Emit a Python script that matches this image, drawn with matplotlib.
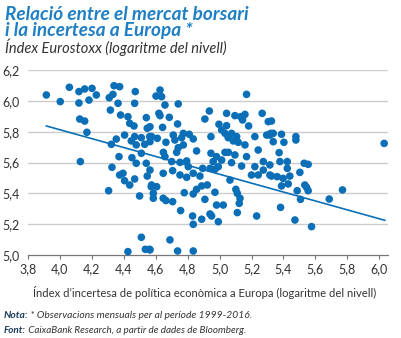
import matplotlib
matplotlib.use("Agg")
import matplotlib.pyplot as plt
import numpy as np

# ---- data ----
uncertainty = [
    3.915, 4.002, 4.059, 4.119, 4.155, 4.201, 4.228, 4.182, 4.119, 4.124, 4.155, 4.169, 4.128,
    4.339, 4.374, 4.332, 4.309, 4.364, 4.316, 4.380, 4.426, 4.472, 4.468, 4.541, 4.437, 4.464,
    4.547, 4.405, 4.353, 4.322, 4.468, 4.447, 4.510, 4.478, 4.531, 4.562, 4.370, 4.451, 4.510,
    4.478, 4.541,
    4.627, 4.602, 4.637, 4.658, 4.620, 4.627, 4.685, 4.643, 4.741, 4.737, 4.564, 4.574, 4.610,
    4.564, 4.664, 4.710, 4.720, 4.773, 4.762, 4.810, 4.773, 4.741, 4.835, 4.648, 4.658, 4.731,
    4.794, 4.856, 4.700, 4.752, 4.936, 4.908, 5.044, 5.096, 5.132, 5.159, 5.144, 5.182, 5.169,
    5.267, 5.305, 4.996, 5.044, 5.013, 5.034, 5.075, 5.054, 5.107, 5.086, 5.117, 4.946, 5.159,
    5.055, 4.946, 4.981, 5.013, 5.034, 5.096, 5.169, 5.221, 5.242, 5.295, 5.320, 5.336, 5.274,
    4.960,
    5.325, 5.336, 5.315, 5.388, 5.403, 5.478, 5.478, 5.373, 5.378, 5.424, 5.530, 5.555, 6.031,
    4.326, 4.374, 4.395, 4.405, 4.437, 4.468, 4.305, 4.547, 4.499, 4.572, 4.510, 4.426, 4.535,
    4.562,
    4.804, 4.564, 4.647, 4.706, 4.752, 4.794, 4.835, 4.877, 4.894, 4.940, 4.971, 4.992, 5.075,
    5.138, 5.221, 5.200, 5.242, 5.274, 5.315, 5.315, 5.065, 4.574, 4.606, 4.585, 4.585, 4.647,
    4.664, 4.706, 4.779, 4.835, 4.856, 4.888, 4.923, 4.971, 4.908, 4.981, 5.023, 5.102, 5.111,
    5.128, 5.123, 5.111, 5.232, 4.756, 4.831, 4.888, 4.940, 4.950, 4.992, 4.835, 4.689, 4.564,
    4.737, 4.835,
    5.424, 5.503, 5.325, 5.361, 5.398, 5.440, 5.388, 5.430, 5.534, 5.545, 5.486, 5.555, 5.507,
    5.687, 5.770, 5.382, 5.472, 5.576,
]
eurostoxx = [
    6.038, 5.995, 6.088, 6.060, 6.077, 6.081, 6.038, 6.005, 5.986, 5.882, 5.869, 5.796, 5.606,
    6.098, 6.092, 6.042, 6.020, 5.984, 5.940, 5.908, 5.897, 6.060, 5.984, 5.891, 5.854, 5.837,
    5.822, 5.778, 5.752, 5.718, 5.768, 5.740, 5.761, 5.714, 5.718, 5.768, 5.638, 5.631, 5.660,
    5.595, 5.595,
    6.070, 6.031, 6.027, 5.973, 5.919, 5.904, 5.893, 5.828, 5.980, 5.850, 5.832, 5.768, 5.757,
    5.735, 5.731, 5.778, 5.746, 5.789, 5.761, 5.783, 5.714, 5.696, 5.753, 5.666, 5.638, 5.666,
    5.610, 5.675, 5.606, 5.601, 5.934, 5.882, 5.919, 5.904, 5.897, 5.912, 5.876, 5.837, 6.042,
    5.919, 5.865, 5.848, 5.839, 5.811, 5.789, 5.789, 5.761, 5.768, 5.740, 5.731, 5.768, 5.714,
    5.666, 5.660, 5.638, 5.616, 5.666, 5.649, 5.638, 5.768, 5.681, 5.778, 5.789, 5.735, 5.606,
    5.606,
    5.869, 5.789, 5.778, 5.783, 5.731, 5.768, 5.746, 5.664, 5.606, 5.606, 5.595, 5.588, 5.724,
    5.569, 5.519, 5.530, 5.482, 5.454, 5.493, 5.417, 5.512, 5.383, 5.443, 5.115, 5.022, 5.037,
    5.037,
    5.573, 5.551, 5.530, 5.547, 5.519, 5.504, 5.530, 5.512, 5.562, 5.562, 5.556, 5.573, 5.599,
    5.577, 5.573, 5.519, 5.519, 5.551, 5.519, 5.584, 5.486, 5.454, 5.443, 5.400, 5.368, 5.368,
    5.353, 5.346, 5.404, 5.396, 5.426, 5.448, 5.454, 5.407, 5.361, 5.324, 5.324, 5.426, 5.400,
    5.368, 5.335, 5.275, 5.253, 5.288, 5.253, 5.232, 5.266, 5.253, 5.216, 5.199, 5.098, 5.033,
    5.026, 5.026,
    5.562, 5.536, 5.512, 5.508, 5.497, 5.512, 5.448, 5.461, 5.454, 5.439, 5.417, 5.417, 5.361,
    5.363, 5.422, 5.309, 5.227, 5.184,
]
trend_x = [3.915, 6.035]
trend_y = [5.837, 5.225]
x_ticks = [3.8, 4.0, 4.2, 4.4, 4.6, 4.8, 5.0, 5.2, 5.4, 5.6, 5.8, 6.0]
y_ticks = [5.0, 5.2, 5.4, 5.6, 5.8, 6.0, 6.2]

title_1 = "Relació entre el mercat borsari"
title_2 = "i la incertesa a Europa *"
subtitle = "Índex Eurostoxx (logaritme del nivell)"
xlabel = "Índex d’incertesa de política econòmica a Europa (logaritme del nivell)"
note_head = "Nota:"
note_text = " * Observacions mensuals per al període 1999-2016."
src_head = "Font:"
src_text = " CaixaBank Research, a partir de dades de Bloomberg."

# ---- styling ----
FAM = ["Lato", "DejaVu Sans"]
plt.rcParams["font.family"] = FAM
BLUE = "#0a6fb7"
TITLE_BLUE = "#1f7fc4"
TXT = "#333333"

W, H = 401, 338
fig = plt.figure(figsize=(W / 100, H / 100), dpi=100)
fig.patch.set_facecolor("white")

def fx(px):
    return px / W

def fy(py):
    return 1 - py / H

ax = fig.add_axes([fx(28), fy(255), fx(388) - fx(28), fy(70) - fy(255)])
ax.set_xlim(3.8, 6.055)
ax.set_ylim(5.0, 6.2)

ax.set_yticks(y_ticks)
ax.set_xticks(x_ticks)
ax.set_yticklabels([f"{v:.1f}".replace(".", ",") for v in y_ticks])
ax.set_xticklabels([f"{v:.1f}".replace(".", ",") for v in x_ticks])

for v in y_ticks[1:]:
    ax.axhline(v, color="#cccccc", lw=1.0, zorder=0)

for s in ["top", "right", "left"]:
    ax.spines[s].set_visible(False)
ax.spines["bottom"].set_color("#777777")
ax.spines["bottom"].set_linewidth(0.9)
ax.tick_params(axis="y", length=0, pad=6, labelsize=9, labelcolor=TXT)
ax.tick_params(axis="x", direction="out", length=3, width=0.8, color="#777777",
               pad=3, labelsize=9, labelcolor=TXT)

ax.scatter(uncertainty, eurostoxx, s=30, color=BLUE, edgecolors="none", zorder=3,
           clip_on=False)
ax.plot(trend_x, trend_y, color=BLUE, lw=1.2, zorder=4)

fig.canvas.draw()
r = fig.canvas.get_renderer()

def fit(t, target_w):
    bb = t.get_window_extent(renderer=r)
    t.set_fontsize(t.get_fontsize() * target_w / bb.width)

ta = fig.text(fx(5), fy(20), title_1, color=TITLE_BLUE, fontsize=12.5, fontweight="bold",
              fontstyle="italic", va="baseline", ha="left")
fit(ta, 243)
tb = fig.text(fx(5), fy(36), title_2, color=TITLE_BLUE, fontsize=ta.get_fontsize(),
              fontweight="bold", fontstyle="italic", va="baseline", ha="left")
ts = fig.text(fx(5), fy(53), subtitle, color=TXT, fontsize=9.5, fontstyle="italic",
              va="baseline", ha="left")
fit(ts, 223)
tx = fig.text(fx(205), fy(297), xlabel, color=TXT, fontsize=9, ha="center", va="baseline")
fit(tx, 346)

t1 = fig.text(fx(4), fy(318), note_head, color="#1b3a5c", fontsize=7.5,
              fontweight="bold", fontstyle="italic", va="baseline", ha="left")
t2 = fig.text(fx(4), fy(333), src_head, color="#1b3a5c", fontsize=7.5,
              fontweight="bold", fontstyle="italic", va="baseline", ha="left")
fig.canvas.draw()
tails = []
for head, txt, yy in [(t1, note_text, 318), (t2, src_text, 333)]:
    bb = head.get_window_extent(renderer=r)
    tails.append(fig.text(bb.x1 / W, fy(yy), txt, color=TXT, fontsize=7.5,
                          fontstyle="italic", va="baseline", ha="left"))
# reference: note line ends near x=250, source line ends near x=245
fig.canvas.draw()
for head, tail, end in [(t1, tails[0], 250), (t2, tails[1], 245)]:
    hb = head.get_window_extent(renderer=r)
    tb_ = tail.get_window_extent(renderer=r)
    scale = (end - 4) / (tb_.x1 - 4)
    head.set_fontsize(head.get_fontsize() * scale)
    tail.set_fontsize(tail.get_fontsize() * scale)
    fig.canvas.draw()
    tail.set_x(head.get_window_extent(renderer=r).x1 / W)

fig.savefig("out.png", dpi=100, facecolor="white")
